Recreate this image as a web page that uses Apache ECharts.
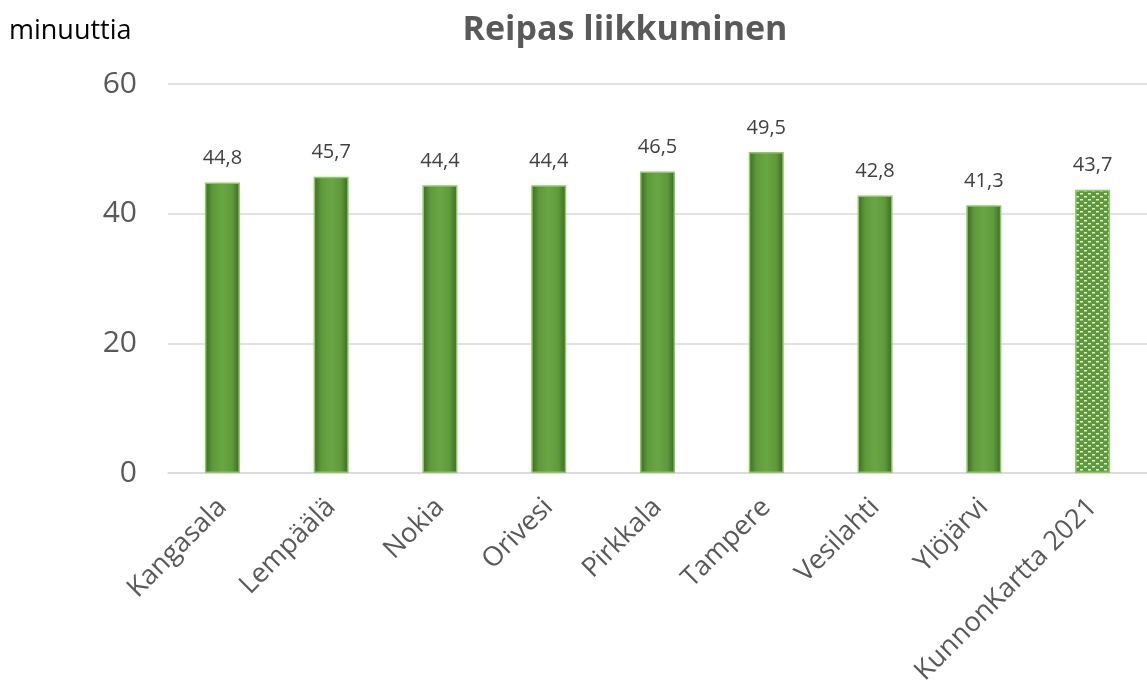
<!DOCTYPE html>
<html>
<head>
<meta charset="utf-8">
<script src="https://cdn.jsdelivr.net/npm/echarts@6/dist/echarts.min.js"></script>
<style>
  html, body { margin: 0; padding: 0; background: #fff; }
  #main { width: 1147px; height: 691px; }
</style>
</head>
<body>
<div id="main"></div>
<script>
// data
var kunnat = ['Kangasala', 'Lempäälä', 'Nokia', 'Orivesi', 'Pirkkala', 'Tampere', 'Vesilahti', 'Ylöjärvi', 'KunnonKartta 2021'];
var minuutit = [44.8, 45.7, 44.4, 44.4, 46.5, 49.5, 42.8, 41.3, 43.7];
var yTicks = [0, 20, 40, 60];

var FONT = '"Open Sans", sans-serif';

// pattern for the reference bar (green with little white dashes)
function makePattern() {
  var c = document.createElement('canvas');
  c.width = 8; c.height = 6;
  var g = c.getContext('2d');
  g.fillStyle = '#5e9a3a';
  g.fillRect(0, 0, 8, 6);
  g.fillStyle = '#e4ecdd';
  g.fillRect(0, 1, 3, 1.5);
  g.fillRect(4, 4, 3, 1.5);
  return c;
}

var shaded = {
  type: 'linear', x: 0, y: 0, x2: 1, y2: 0,
  colorStops: [
    { offset: 0, color: '#3d6624' },
    { offset: 0.22, color: '#5e9a3a' },
    { offset: 0.5, color: '#6aa644' },
    { offset: 0.78, color: '#5e9a3a' },
    { offset: 1, color: '#3d6624' }
  ]
};

var barData = minuutit.map(function (v, i) {
  if (i === minuutit.length - 1) {
    return { value: v, itemStyle: { color: { image: makePattern(), repeat: 'repeat' } } };
  }
  return v;
});

var chart = echarts.init(document.getElementById('main'), null, { renderer: 'canvas' });
chart.setOption({
  animation: false,
  title: {
    text: 'Reipas liikkuminen',
    left: 620, top: 8, textAlign: 'center',
    textStyle: { fontFamily: FONT, fontSize: 34, fontWeight: 'bold', color: '#595959' }
  },
  graphic: [{
    type: 'text', left: 9, top: 18,
    style: { text: 'minuuttia', font: '27px ' + FONT, fill: '#000' }
  }],
  grid: { left: 168, right: 0, top: 84, bottom: 218 },
  xAxis: {
    type: 'category',
    data: kunnat,
    axisLine: { show: true, lineStyle: { color: '#d9d9d9', width: 1.5 } },
    axisTick: { show: false },
    axisLabel: {
      rotate: 45, interval: 0, margin: 30,
      fontFamily: FONT, fontSize: 27, color: '#595959'
    }
  },
  yAxis: {
    type: 'value', min: yTicks[0], max: yTicks[yTicks.length - 1], interval: 20,
    axisLine: { show: false },
    axisTick: { show: false },
    splitLine: { lineStyle: { color: '#d9d9d9', width: 1.5 } },
    axisLabel: { margin: 31, fontFamily: FONT, fontSize: 30, color: '#595959' }
  },
  series: [{
    type: 'bar',
    data: barData,
    barWidth: 35,
    itemStyle: { color: shaded, borderColor: '#8cc965', borderWidth: 1.5 },
    label: {
      show: true, position: 'top', distance: 14,
      fontFamily: FONT, fontSize: 20, color: '#404040',
      formatter: function (p) { return String(p.value).replace('.', ','); }
    }
  }]
});
</script>
</body>
</html>
